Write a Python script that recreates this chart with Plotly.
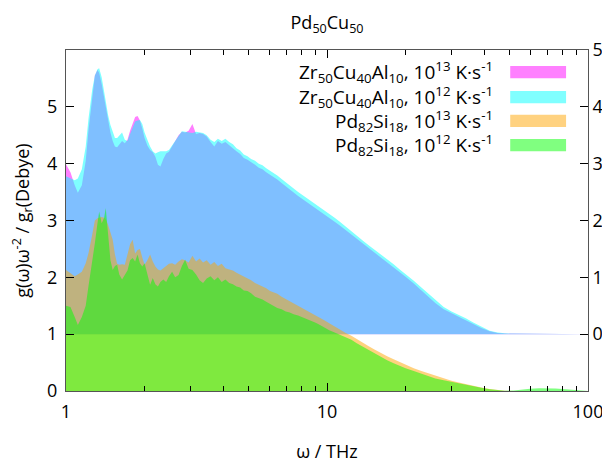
import plotly.graph_objects as go

freq = [1.00, 1.04, 1.08, 1.11, 1.15, 1.19, 1.22, 1.26, 1.29, 1.32,
        1.34, 1.37, 1.40, 1.42, 1.45, 1.48, 1.51, 1.54, 1.57, 1.60,
        1.64, 1.68, 1.72, 1.76, 1.80, 1.84, 1.88, 1.92, 1.96, 2.00,
        2.05, 2.10, 2.15, 2.20, 2.25, 2.30, 2.36, 2.42, 2.48, 2.55,
        2.62, 2.70, 2.78, 2.86, 2.95, 3.05, 3.15, 3.25, 3.35, 3.46,
        3.58, 3.70, 3.82, 3.95, 4.08, 4.22, 4.36, 4.50, 4.65, 4.80,
        4.96, 5.12, 5.30, 5.48, 5.66, 5.85, 6.05, 6.25, 6.45, 6.70,
        6.95, 7.20, 7.45, 7.75, 8.05, 8.35, 8.70, 9.05, 9.40, 9.80,
        10.2, 10.7, 11.2, 11.8, 12.4, 13.0, 13.7, 14.4, 15.2, 16.0,
        17.0, 18.0, 19.0, 20.0, 21.5, 23.0, 24.5, 26.0, 28.0, 30.0,
        32.0, 34.0, 36.5, 39.0, 42.0, 45.0, 48.0, 52.0, 56.0, 60.0,
        65.0, 70.0, 75.0, 80.0, 90.0, 100.0]

# Zr50Cu40Al10 curves, in right-axis units
zr_1e13 = [2.99, 2.85, 2.62, 2.49, 2.62, 3.05, 3.60, 4.20, 4.55, 4.65,
           4.60, 4.40, 4.15, 3.95, 3.73, 3.55, 3.40, 3.30, 3.29, 3.33,
           3.40, 3.36, 3.42, 3.58, 3.72, 3.82, 3.84, 3.76, 3.62, 3.45,
           3.32, 3.24, 3.20, 3.12, 2.98, 2.95, 3.08, 3.18, 3.21, 3.30,
           3.38, 3.50, 3.56, 3.55, 3.58, 3.70, 3.52, 3.54, 3.52, 3.48,
           3.38, 3.30, 3.40, 3.35, 3.38, 3.33, 3.28, 3.22, 3.17, 3.10,
           3.07, 3.02, 2.98, 2.93, 2.90, 2.85, 2.81, 2.76, 2.72, 2.66,
           2.60, 2.55, 2.50, 2.43, 2.38, 2.33, 2.27, 2.22, 2.17, 2.11,
           2.05, 1.98, 1.91, 1.83, 1.75, 1.67, 1.59, 1.51, 1.43, 1.36,
           1.27, 1.18, 1.09, 1.01, 0.89, 0.77, 0.66, 0.55, 0.44, 0.37,
           0.31, 0.25, 0.18, 0.11, 0.05, 0.02, 0.01, 0.01, 0.005, 0.005,
           0.003, 0.002, 0.001, 0.0, 0.0, 0.0]
zr_1e12 = [2.78, 2.74, 2.71, 2.74, 2.90, 3.30, 3.80, 4.30, 4.55, 4.66,
           4.68, 4.52, 4.25, 4.05, 3.85, 3.68, 3.55, 3.45, 3.45, 3.50,
           3.55, 3.42, 3.40, 3.52, 3.65, 3.74, 3.76, 3.77, 3.70, 3.55,
           3.42, 3.30, 3.22, 3.18, 3.20, 3.22, 3.22, 3.22, 3.24, 3.32,
           3.40, 3.50, 3.57, 3.56, 3.55, 3.54, 3.56, 3.55, 3.54, 3.50,
           3.42, 3.38, 3.44, 3.40, 3.44, 3.38, 3.34, 3.27, 3.23, 3.16,
           3.13, 3.08, 3.05, 3.00, 2.97, 2.92, 2.88, 2.83, 2.79, 2.73,
           2.67, 2.62, 2.57, 2.50, 2.45, 2.40, 2.34, 2.29, 2.24, 2.18,
           2.12, 2.05, 1.98, 1.89, 1.81, 1.73, 1.65, 1.57, 1.49, 1.41,
           1.32, 1.23, 1.14, 1.06, 0.94, 0.82, 0.71, 0.60, 0.48, 0.40,
           0.34, 0.28, 0.20, 0.13, 0.06, 0.03, 0.015, 0.01, 0.008, 0.006,
           0.004, 0.003, 0.002, 0.0, 0.0, 0.0]

# Pd82Si18 curves, in left-axis units
pd_1e13 = [2.13, 2.08, 2.02, 2.05, 2.10, 2.25, 2.43, 2.75, 3.00, 3.04,
           3.05, 3.06, 3.05, 3.02, 2.92, 2.78, 2.66, 2.40, 2.24, 2.22,
           2.23, 2.22, 2.38, 2.58, 2.66, 2.42, 2.48, 2.50, 2.35, 2.22,
           2.30, 2.40, 2.28, 2.19, 2.14, 2.12, 2.16, 2.20, 2.24, 2.25,
           2.22, 2.28, 2.32, 2.30, 2.26, 2.38, 2.28, 2.33, 2.26, 2.30,
           2.22, 2.27, 2.20, 2.24, 2.16, 2.14, 2.12, 2.08, 2.05, 2.02,
           1.99, 1.95, 1.90, 1.87, 1.84, 1.81, 1.76, 1.74, 1.71, 1.66,
           1.62, 1.59, 1.54, 1.50, 1.46, 1.42, 1.37, 1.34, 1.29, 1.24,
           1.19, 1.13, 1.08, 1.02, 0.97, 0.91, 0.85, 0.79, 0.73, 0.67,
           0.61, 0.56, 0.51, 0.46, 0.40, 0.35, 0.31, 0.26, 0.22, 0.18,
           0.15, 0.12, 0.09, 0.06, 0.035, 0.015, 0.005, 0.0, 0.0, 0.0,
           0.0, 0.0, 0.0, 0.0, 0.0, 0.0]
pd_1e12 = [1.50, 1.48, 1.30, 1.16, 1.30, 1.50, 1.85, 2.25, 2.60, 2.95,
           3.16, 2.95, 3.05, 3.22, 2.75, 2.30, 2.13, 2.20, 2.22, 2.05,
           1.96, 2.05, 2.12, 2.30, 2.34, 2.28, 2.40, 2.25, 2.19, 2.25,
           2.05, 1.87, 1.99, 1.88, 1.84, 1.92, 1.96, 1.92, 2.02, 2.10,
           2.00, 2.04, 2.20, 2.31, 2.15, 2.13, 2.05, 1.95, 1.90, 1.98,
           2.02, 1.95, 2.00, 1.92, 1.96, 1.90, 1.88, 1.84, 1.82, 1.77,
           1.76, 1.72, 1.66, 1.64, 1.61, 1.57, 1.53, 1.50, 1.46, 1.44,
           1.40, 1.38, 1.35, 1.33, 1.30, 1.27, 1.24, 1.20, 1.16, 1.11,
           1.07, 1.03, 0.99, 0.94, 0.90, 0.84, 0.78, 0.72, 0.66, 0.60,
           0.54, 0.49, 0.44, 0.40, 0.35, 0.30, 0.26, 0.22, 0.19, 0.16,
           0.13, 0.11, 0.08, 0.055, 0.03, 0.01, 0.003, 0.01, 0.03, 0.04,
           0.05, 0.05, 0.045, 0.035, 0.015, 0.0]

legend_labels = [
    "Zr<sub>50</sub>Cu<sub>40</sub>Al<sub>10</sub>, 10<sup>13</sup> K·s<sup>-1</sup>",
    "Zr<sub>50</sub>Cu<sub>40</sub>Al<sub>10</sub>, 10<sup>12</sup> K·s<sup>-1</sup>",
    "Pd<sub>82</sub>Si<sub>18</sub>, 10<sup>13</sup> K·s<sup>-1</sup>",
    "Pd<sub>82</sub>Si<sub>18</sub>, 10<sup>12</sup> K·s<sup>-1</sup>",
]
fill_colors = ["rgba(255,0,255,0.5)", "rgba(0,255,255,0.5)",
               "rgba(255,165,0,0.5)", "rgba(0,255,0,0.5)"]
key_colors = ["#ff80ff", "#80ffff", "#ffd280", "#80ff80"]

ZR_OFFSET = 1.0  # right axis zero sits at left-axis value 1

FONT = "Open Sans"
FS = 18
fig = go.Figure()

for series, col in ((zr_1e13, fill_colors[0]), (zr_1e12, fill_colors[1])):
    fig.add_trace(go.Scatter(x=freq, y=[ZR_OFFSET] * len(freq), mode="lines",
                             line=dict(width=0), showlegend=False, hoverinfo="skip"))
    fig.add_trace(go.Scatter(x=freq, y=[v + ZR_OFFSET for v in series], mode="lines",
                             line=dict(width=0), fill="tonexty", fillcolor=col,
                             showlegend=False))
for series, col in ((pd_1e13, fill_colors[2]), (pd_1e12, fill_colors[3])):
    fig.add_trace(go.Scatter(x=freq, y=series, mode="lines", line=dict(width=0),
                             fill="tozeroy", fillcolor=col, showlegend=False))

# invisible trace to activate right axis
fig.add_trace(go.Scatter(x=[1, 100], y=[0, 0], yaxis="y2", mode="lines",
                         line=dict(width=0), showlegend=False, hoverinfo="skip"))

# manual legend (text right-aligned, key on the right)
row_y = [0.935, 0.862, 0.792, 0.721]
for lab, kc, yy in zip(legend_labels, key_colors, row_y):
    fig.add_annotation(x=0.822, y=yy, xref="paper", yref="paper", text=lab,
                       showarrow=False, xanchor="right", yanchor="middle",
                       font=dict(family=FONT, size=FS + 1, color="black"))
    fig.add_shape(type="rect", xref="paper", yref="paper",
                  x0=0.851, x1=0.958, y0=yy - 0.018, y1=yy + 0.018,
                  fillcolor=kc, line=dict(width=0))

axis_line = "#555555"
fig.update_layout(
    width=602, height=455,
    margin=dict(l=58, r=22, t=42, b=72, autoexpand=False),
    paper_bgcolor="white", plot_bgcolor="white",
    font=dict(family=FONT, size=FS, color="black"),
    title=dict(text="Pd<sub>50</sub>Cu<sub>50</sub>", x=0.53, xanchor="center",
               y=0.968, yanchor="middle", font=dict(family=FONT, size=FS)),
    xaxis=dict(type="log", range=[0, 2], tickvals=[1, 10, 100],
               ticktext=["1", "10", "100"], ticks="inside", ticklen=8,
               tickcolor="black", showline=True, linecolor=axis_line, linewidth=1,
               mirror="ticks", showgrid=False, zeroline=False, automargin=False,
               ticklabelstandoff=4,
               minor=dict(ticks="inside", ticklen=5, tickcolor="black",
                          tickvals=[2, 3, 4, 5, 6, 7, 8, 9, 20, 30, 40, 50, 60, 70, 80, 90],
                          showgrid=False),
               title=dict(text="ω / THz", standoff=26, font=dict(size=FS)),
               tickfont=dict(size=FS)),
    yaxis=dict(range=[0, 6], tickvals=[0, 1, 2, 3, 4, 5], ticks="inside", ticklen=8,
               tickcolor="black", showline=True, linecolor=axis_line, linewidth=1,
               mirror=False, showgrid=False, zeroline=False, ticklabelstandoff=4,
               automargin=False,
               title=dict(text="g(ω)ω<sup>-2</sup> / g<sub>r</sub>(Debye)",
                          standoff=18, font=dict(size=FS)),
               tickfont=dict(size=FS)),
    yaxis2=dict(overlaying="y", side="right", range=[-1, 5],
                tickvals=[0, 1, 2, 3, 4, 5], ticks="inside", ticklen=8,
                tickcolor="black", showline=True, linecolor=axis_line, linewidth=1,
                showgrid=False, zeroline=False, automargin=False,
                tickfont=dict(size=FS)),
)

fig.write_html("out.html")
